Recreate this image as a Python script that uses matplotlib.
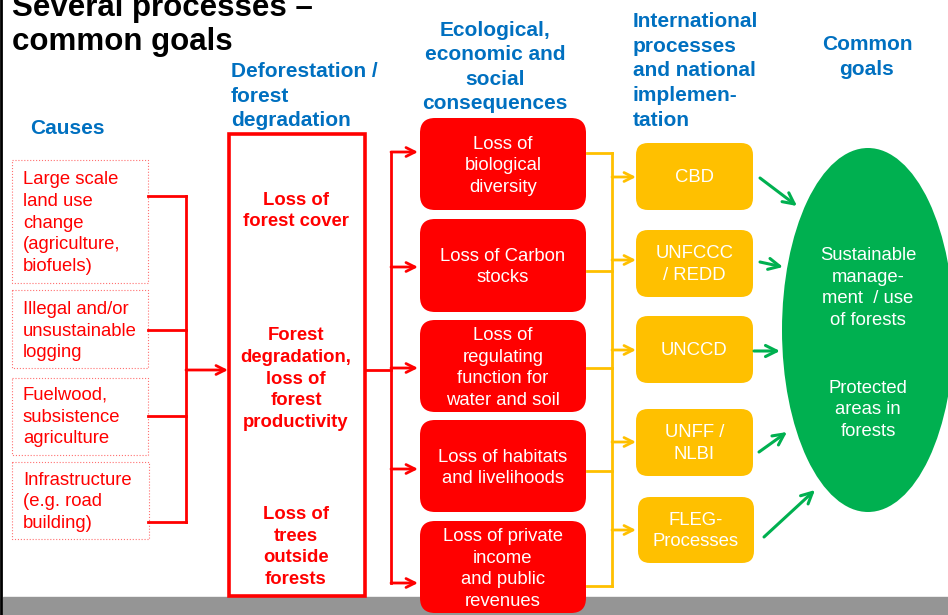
import matplotlib
matplotlib.use("Agg")
import matplotlib.pyplot as plt
from matplotlib.patches import FancyBboxPatch, Rectangle, Ellipse

plt.rcParams['font.family'] = ['Liberation Sans', 'DejaVu Sans']

RED = '#FF0000'
YEL = '#FFC000'
GRN = '#00B050'
BLUE = '#0070C0'

title = "Several processes \u2013\ncommon goals"
headers = ["Causes", "Deforestation /\nforest\ndegradation",
           "Ecological,\neconomic and\nsocial\nconsequences",
           "International\nprocesses\nand national\nimplemen-\ntation",
           "Common\ngoals"]
causes = ["Large scale\nland use\nchange\n(agriculture,\nbiofuels)",
          "Illegal and/or\nunsustainable\nlogging",
          "Fuelwood,\nsubsistence\nagriculture",
          "Infrastructure\n(e.g. road\nbuilding)"]
deforest = ["Loss of\nforest cover",
            "Forest\ndegradation,\nloss of\nforest\nproductivity",
            "Loss of\ntrees\noutside\nforests"]
consequences = ["Loss of\nbiological\ndiversity",
                "Loss of Carbon\nstocks",
                "Loss of\nregulating\nfunction for\nwater and soil",
                "Loss of habitats\nand livelihoods",
                "Loss of private\nincome\nand public\nrevenues"]
processes = ["CBD", "UNFCCC\n/ REDD", "UNCCD", "UNFF /\nNLBI", "FLEG-\nProcesses"]
goals = ["Sustainable\nmanage-\nment  / use\nof forests",
         "Protected\nareas in\nforests"]

# layout (pixel coordinates, y downwards)
cause_boxes = [(12, 160, 136, 123), (12, 290, 136, 78), (12, 378, 136, 77), (12, 462, 137, 77)]
cause_text_y = [223, 331, 417, 502]
cause_link_y = [196, 330, 416, 522]
defo_text_y = [211, 379, 547]
cons_boxes = [(420, 118, 166, 92), (420, 219, 166, 93), (420, 320, 166, 92),
              (420, 420, 166, 92), (420, 521, 166, 92)]
cons_text_y = [166, 267, 368, 468, 569]
cons_in_y = [152, 267, 368, 469, 583]
cons_out_y = [153, 271, 368, 471, 586]
proc_boxes = [(636, 143, 117, 67), (636, 230, 117, 67), (636, 316, 117, 67),
              (636, 409, 117, 67), (638, 497, 116, 66)]
proc_in_y = [177, 260, 350, 442, 530]
goal_text_y = [288, 410]
green_arrows = [((760, 178), (797, 206)), ((760, 262), (783, 267)),
                ((754, 351), (780, 351)), ((759, 452), (787, 432)),
                ((764, 537), (815, 490))]

fig = plt.figure(figsize=(9.48, 6.15), dpi=100)
ax = fig.add_axes([0, 0, 1, 1])
ax.set_xlim(0, 948)
ax.set_ylim(615, 0)
ax.axis('off')

LS = 1.35   # body line spacing
HLS = 1.37  # header line spacing

# frame bits
ax.add_patch(Rectangle((3, 597), 945, 18, color='#959595', zorder=0))
ax.plot([1.5, 1.5], [0, 615], color='black', lw=2, zorder=1)

ax.text(12, 25, title, fontsize=22.5, fontweight='bold', va='center', ha='left',
        linespacing=1.2)

hdr_pos = [(67, 129, 'center'), (231, 96, 'left'), (495, 67, 'center'),
           (633, 71, 'left'), (867, 57, 'center')]
for h, (x, y, ha) in zip(headers, hdr_pos):
    ax.text(x, y, h, fontsize=15, fontweight='bold', color=BLUE, ha=ha, va='center',
            linespacing=HLS)

# causes
for (x, y, w, h), t, ty in zip(cause_boxes, causes, cause_text_y):
    ax.add_patch(Rectangle((x, y), w, h, fill=False, ec='#FF7070', lw=0.8, ls=':'))
    ax.text(x + 11, ty, t, fontsize=13.3, color=RED, ha='left', va='center', linespacing=LS)
for ly in cause_link_y:
    ax.plot([148, 186], [ly, ly], color=RED, lw=2)
ax.plot([186, 186], [cause_link_y[0], cause_link_y[-1]], color=RED, lw=2)
ax.annotate('', xy=(228, 370), xytext=(186, 370),
            arrowprops=dict(arrowstyle='->', color=RED, lw=2, shrinkA=0, shrinkB=0,
                            mutation_scale=16))

# deforestation box
ax.add_patch(Rectangle((229, 134), 136, 462, fill=False, ec=RED, lw=2.6))
for t, ty in zip(deforest, defo_text_y):
    ax.text(296, ty, t, fontsize=13.3, fontweight='bold', color=RED, ha='center',
            va='center', linespacing=LS)
ax.plot([365, 391], [370, 370], color=RED, lw=2)
ax.plot([391, 391], [cons_in_y[0], cons_in_y[-1]], color=RED, lw=2)
for ly in cons_in_y:
    ax.annotate('', xy=(418, ly), xytext=(391, ly),
                arrowprops=dict(arrowstyle='->', color=RED, lw=2, shrinkA=0, shrinkB=0,
                                mutation_scale=16))

# consequences
for (x, y, w, h), t, ty in zip(cons_boxes, consequences, cons_text_y):
    ax.add_patch(FancyBboxPatch((x, y), w, h, boxstyle='round,pad=0,rounding_size=15',
                                fc=RED, ec='none', zorder=2))
    ax.text(x + w / 2, ty, t, fontsize=13.3, color='white', ha='center', va='center',
            linespacing=LS, zorder=3)
for ly in cons_out_y:
    ax.plot([587, 612], [ly, ly], color=YEL, lw=2)
ax.plot([612, 612], [cons_out_y[0], cons_out_y[-1]], color=YEL, lw=2)
for ly in proc_in_y:
    ax.annotate('', xy=(636, ly), xytext=(612, ly),
                arrowprops=dict(arrowstyle='->', color=YEL, lw=2, shrinkA=0, shrinkB=0,
                                mutation_scale=16))

# processes
for (x, y, w, h), t in zip(proc_boxes, processes):
    ax.add_patch(FancyBboxPatch((x, y), w, h, boxstyle='round,pad=0,rounding_size=12',
                                fc=YEL, ec='none', zorder=2))
    ax.text(x + w / 2, y + h / 2 + 1, t, fontsize=13.3, color='white', ha='center',
            va='center', linespacing=LS, zorder=3)

# goals
ax.add_patch(Ellipse((868, 330), 172, 364, fc=GRN, ec='none', zorder=2))
for t, ty in zip(goals, goal_text_y):
    ax.text(868, ty, t, fontsize=13.3, color='white', ha='center', va='center',
            linespacing=LS, zorder=3)
for s, e in green_arrows:
    ax.annotate('', xy=e, xytext=s,
                arrowprops=dict(arrowstyle='->', color=GRN, lw=2.2, shrinkA=0, shrinkB=0,
                                mutation_scale=20))

fig.savefig('out.png', dpi=100)
